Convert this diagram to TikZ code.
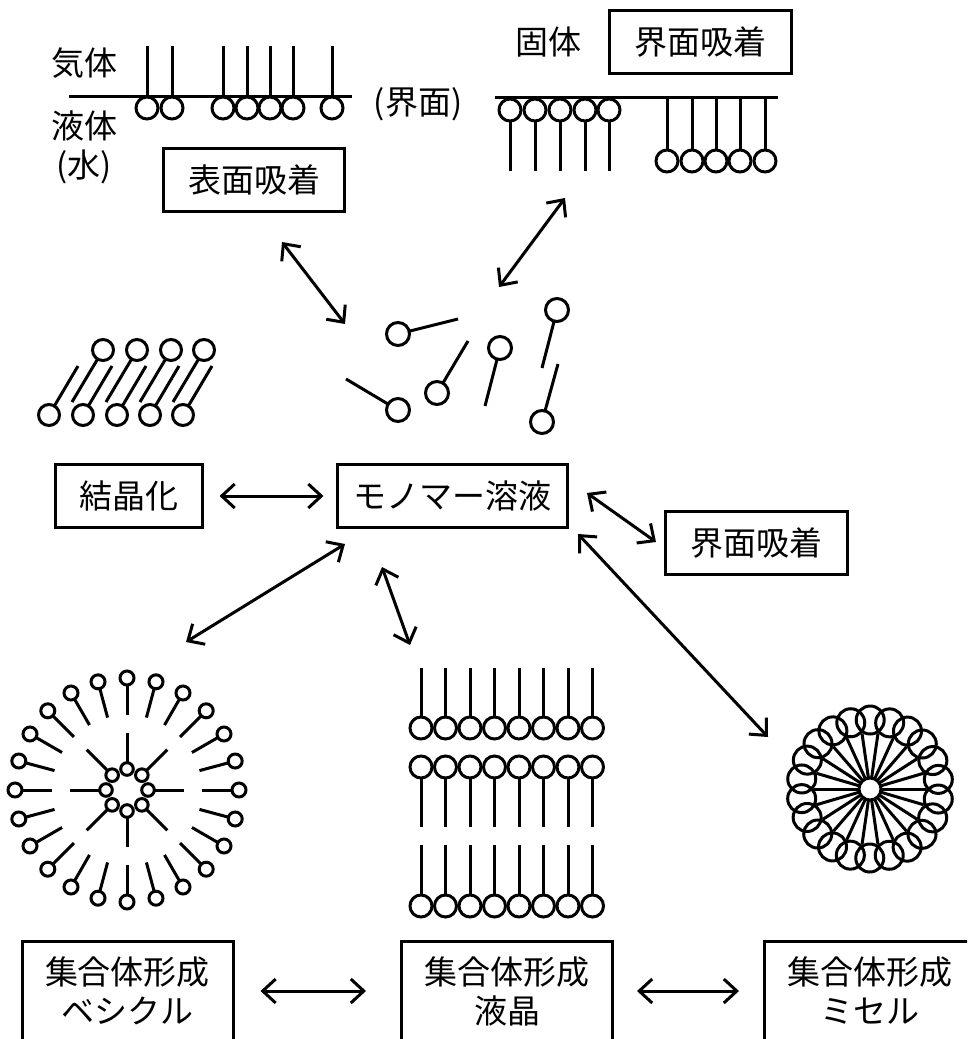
\documentclass[tikz,border=0pt]{standalone}
\usepackage{fontspec}
\setmainfont{Noto Sans CJK JP}
\usetikzlibrary{arrows.meta,calc}
\begin{document}
\begin{tikzpicture}[x=1pt,y=-1pt,
  lw/.style={line width=3pt},
  jp/.style={font=\fontsize{33}{37}\selectfont, inner sep=0pt},
  box/.style={draw, line width=3pt, minimum height=63pt, jp},
  dar/.style={line width=3pt,
    {Straight Barb[length=13pt,width=24pt]}-{Straight Barb[length=13pt,width=24pt]}},
  frame/.style={draw, line width=3pt, minimum width=211pt, minimum height=160pt, anchor=north},
  two/.style={font=\fontsize{33}{39}\selectfont, inner sep=0pt, align=center}
]
\useasboundingbox (0,0) rectangle (967,1039);
\clip (0,0) rectangle (967,1039);

% ---------- gas / liquid surface ----------
\node[jp] (gas) at (84,63) {気体};
\node[jp] (liq) at (84,126) {液体};
\node[jp] (water) at (84,167) {(水)};
\node[jp] (iface) at (418,104) {(界面)};
\draw[lw] (69,96) -- (352,96);
\foreach \x in {147,172,223,247,270,293,332} {
  \draw[lw] (\x,46) -- (\x,97);
  \draw[lw] (\x,108) circle (11pt);
}
\node[box, minimum width=181pt] (surf) at (254,180) {表面吸着};

% ---------- solid interface ----------
\node[jp] (solid) at (548,42) {固体};
\node[box, minimum width=182pt] (iadsT) at (700,42) {界面吸着};
\draw[lw] (495,97) -- (778,97);
\foreach \x in {510,535,560,585,609} {
  \draw[lw] (\x,122) -- (\x,171);
  \draw[lw] (\x,110) circle (11pt);
}
\foreach \x in {667,692,716,740,765} {
  \draw[lw] (\x,97) -- (\x,150);
  \draw[lw] (\x,161) circle (11pt);
}

% ---------- free monomers ----------
\foreach \cx/\cy/\tx/\ty in {398/334/458/319, 398/410/346/379, 437/393/468/341,
                              500/348/485/406, 557/310/542/368, 542/422/558/364} {
  \draw[lw] (\cx,\cy) -- (\tx,\ty);
  \draw[lw, fill=white] (\cx,\cy) circle (11.5pt);
}

% ---------- crystal ----------
\foreach \x in {103,137,171,204} {
  \draw[lw] (\x,350) -- ($(\x,350)+(-31,52)$);
  \draw[lw, fill=white] (\x,350) circle (10.5pt);
}
\foreach \x in {49,83,117,150,183} {
  \draw[lw] (\x,415) -- ($(\x,415)+(29,-49)$);
  \draw[lw, fill=white] (\x,415) circle (10.5pt);
}

% ---------- boxes, middle row ----------
\node[box, minimum width=147pt] (kessho) at (128.5,496) {結晶化};
\node[box, minimum width=230pt] (mono) at (452,496) {モノマー溶液};
\node[box, minimum width=182pt] (iadsR) at (756,543) {界面吸着};

% ---------- vesicle ----------
\coordinate (V) at (127,790);
\foreach \a in {0,15,...,345} {
  \draw[lw] ($(V)+(\a:75pt)$) -- ($(V)+(\a:105pt)$);
  \draw[lw] ($(V)+(\a:112pt)$) circle (7pt);
}
\foreach \a in {0,45,...,315} {
  \draw[lw] ($(V)+(\a:27pt)$) -- ($(V)+(\a:57pt)$);
  \draw[lw] ($(V)+(\a:21pt)$) circle (6.3pt);
}

% ---------- liquid crystal ----------
\foreach \i in {0,...,7} {
  \pgfmathsetmacro\x{421+24.5*\i}
  \draw[lw] (\x,668) -- (\x,717);
  \draw[lw] (\x,728) circle (11pt);
  \draw[lw] (\x,767) circle (11pt);
  \draw[lw] (\x,778) -- (\x,827);
  \draw[lw] (\x,845) -- (\x,895);
  \draw[lw] (\x,906) circle (11pt);
}

% ---------- micelle ----------
\coordinate (M) at (870,789);
\foreach \i in {0,...,21} {
  \pgfmathsetmacro\a{\i*360/22}
  \draw[lw] ($(M)+(\a:11pt)$) -- ($(M)+(\a:56pt)$);
}
\foreach \i in {0,...,21} {
  \pgfmathsetmacro\a{\i*360/22+8}
  \draw[lw] ($(M)+(\a:69pt)$) circle (14pt);
}
\draw[lw] (M) circle (11pt);

% ---------- bottom boxes ----------
\node[frame] (ves) at (127.5,940) {};
\node[two] (vestxt) at (127.5,991) {集合体形成\\ベシクル};
\node[frame] (lc) at (507,940) {};
\node[two] (lctxt) at (507,991) {集合体形成\\液晶};
\node[frame] (mic) at (870,940) {};
\node[two] (mictxt) at (870,991) {集合体形成\\ミセル};

% ---------- arrow ends ----------
\coordinate (surf-a) at (282,242);
\coordinate (mono-nw) at (345,324);
\coordinate (iadsT-a) at (565,198);
\coordinate (mono-ne) at (499,287);
\coordinate (mono-sw) at (345,544);
\coordinate (ves-a) at (186,642);
\coordinate (mono-s) at (382,567);
\coordinate (lc-a) at (410,645);
\coordinate (mono-se) at (578,534);
\coordinate (mic-a) at (768,737);
\coordinate (mono-e) at (587,493);
\coordinate (iadsR-a) at (656,542);

% ---------- arrows ----------
\draw[dar] (surf-a) -- (mono-nw);
\draw[dar] (iadsT-a) -- (mono-ne);
\draw[dar, shorten <=16pt, shorten >=12pt] (kessho.east) -- (mono.west);
\draw[dar] (mono-e) -- (iadsR-a);
\draw[dar] (mono-sw) -- (ves-a);
\draw[dar] (mono-s) -- (lc-a);
\draw[dar] (mono-se) -- (mic-a);
\draw[dar, shorten <=26pt, shorten >=34pt] (ves.east |- vestxt.center) -- (lc.west |- vestxt.center);
\draw[dar, shorten <=23pt, shorten >=24pt] (lc.east |- lctxt.center) -- (mic.west |- lctxt.center);
\end{tikzpicture}
\end{document}
